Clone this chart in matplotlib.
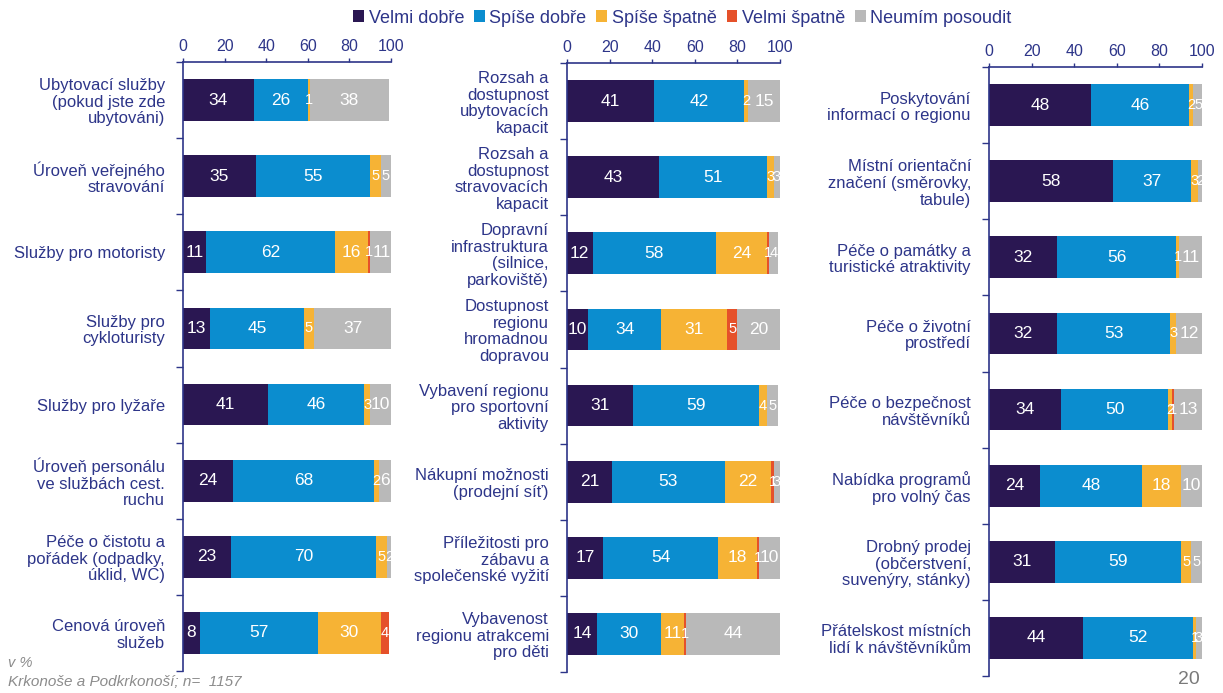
import numpy as np
import matplotlib
import matplotlib.pyplot as plt

matplotlib.use("Agg")
plt.rcParams["font.family"] = ["Liberation Sans", "DejaVu Sans"]

series = ["Velmi dobře", "Spíše dobře", "Spíše špatně", "Velmi špatně", "Neumím posoudit"]
colors = ["#2a1752", "#0b8dcf", "#f6b335", "#e5512a", "#b9b9b9"]

labels_left = [
    "Ubytovací služby\n(pokud jste zde\nubytováni)",
    "Úroveň veřejného\nstravování",
    "Služby pro motoristy",
    "Služby pro\ncykloturisty",
    "Služby pro lyžaře",
    "Úroveň personálu\nve službách cest.\nruchu",
    "Péče o čistotu a\npořádek (odpadky,\núklid, WC)",
    "Cenová úroveň\nslužeb",
]
values_left = [
    [34, 26, 1, 0, 38],
    [35, 55, 5, 0, 5],
    [11, 62, 16, 1, 11],
    [13, 45, 5, 0, 37],
    [41, 46, 3, 0, 10],
    [24, 68, 2, 0, 6],
    [23, 70, 5, 0, 2],
    [8, 57, 30, 4, 0],
]

labels_mid = [
    "Rozsah a\ndostupnost\nubytovacích\nkapacit",
    "Rozsah a\ndostupnost\nstravovacích\nkapacit",
    "Dopravní\ninfrastruktura\n(silnice,\nparkoviště)",
    "Dostupnost\nregionu\nhromadnou\ndopravou",
    "Vybavení regionu\npro sportovní\naktivity",
    "Nákupní možnosti\n(prodejní síť)",
    "Příležitosti pro\nzábavu a\nspolečenské vyžití",
    "Vybavenost\nregionu atrakcemi\npro děti",
]
values_mid = [
    [41, 42, 2, 0, 15],
    [43, 51, 3, 0, 3],
    [12, 58, 24, 1, 4],
    [10, 34, 31, 5, 20],
    [31, 59, 4, 0, 5],
    [21, 53, 22, 1, 3],
    [17, 54, 18, 1, 10],
    [14, 30, 11, 1, 44],
]

labels_right = [
    "Poskytování\ninformací o regionu",
    "Místní orientační\nznačení (směrovky,\ntabule)",
    "Péče o památky a\nturistické atraktivity",
    "Péče o životní\nprostředí",
    "Péče o bezpečnost\nnávštěvníků",
    "Nabídka programů\npro volný čas",
    "Drobný prodej\n(občerstvení,\nsuvenýry, stánky)",
    "Přátelskost místních\nlidí k návštěvníkům",
]
values_right = [
    [48, 46, 2, 0, 5],
    [58, 37, 3, 0, 2],
    [32, 56, 1, 0, 11],
    [32, 53, 3, 0, 12],
    [34, 50, 2, 1, 13],
    [24, 48, 18, 0, 10],
    [31, 59, 5, 0, 5],
    [44, 52, 1, 0, 3],
]

NAVY = "#2d3589"
W, H = 1223, 693


def px_axes(fig, x0, x1, y0, y1):
    return fig.add_axes([x0 / W, 1 - y1 / H, (x1 - x0) / W, (y1 - y0) / H])


def draw_panel(ax, labels, values):
    data = np.array(values, dtype=float)
    y = np.arange(len(labels))
    left = np.zeros(len(labels))
    for j, name in enumerate(series):
        ax.barh(y, data[:, j], left=left, height=0.55, color=colors[j],
                label=name, linewidth=0)
        for i in range(len(labels)):
            # empty segments get no label
            if data[i, j] > 0:
                size = 12.5 if data[i, j] >= 6 else 10.5
                ax.text(left[i] + data[i, j] / 2, y[i], f"{int(data[i, j])}",
                        ha="center", va="center", color="white", fontsize=size)
        left += data[:, j]

    ax.set_xlim(0, 100)
    ax.set_ylim(len(labels) - 0.5, -0.5)
    ax.set_xticks(np.arange(0, 101, 20))
    ax.xaxis.tick_top()
    ax.tick_params(axis="x", direction="out", length=3, width=1, color=NAVY,
                   labelcolor=NAVY, labelsize=11.5, pad=3)

    ax.set_yticks(y)
    ax.set_yticklabels(labels, fontsize=12, color=NAVY, linespacing=1.13)
    ax.set_yticks(np.arange(-0.5, len(labels), 1), minor=True)
    ax.tick_params(axis="y", which="major", length=0, pad=13)
    ax.tick_params(axis="y", which="minor", direction="out", length=5,
                   width=1, color=NAVY)

    for side in ("right", "bottom"):
        ax.spines[side].set_visible(False)
    for side in ("left", "top"):
        ax.spines[side].set_color(NAVY)
        ax.spines[side].set_linewidth(1.2)


fig = plt.figure(figsize=(W / 100, H / 100), dpi=100)

ax1 = px_axes(fig, 183, 391, 62, 671)
ax2 = px_axes(fig, 567, 780, 63, 672)
ax3 = px_axes(fig, 989, 1202, 67, 676)

draw_panel(ax1, labels_left, values_left)
draw_panel(ax2, labels_mid, values_mid)
draw_panel(ax3, labels_right, values_right)

handles, names = ax1.get_legend_handles_labels()
leg = fig.legend(handles, names, loc="center", bbox_to_anchor=(0.558, 0.974),
                 ncol=5, frameon=False, fontsize=13, handlelength=0.6,
                 handleheight=0.6, handletextpad=0.25, columnspacing=0.55)
for t in leg.get_texts():
    t.set_color(NAVY)

fig.text(8 / W, 1 - 663 / H, "v %", fontsize=10.5, style="italic",
         color="#8c8c8c", va="center")
fig.text(8 / W, 1 - 682 / H, "Krkonoše a Podkrkonoší; n=  1157", fontsize=11,
         style="italic", color="#8c8c8c", va="center")
fig.text(1189 / W, 1 - 679 / H, "20", fontsize=14, color="#7a7a7a",
         ha="center", va="center")

fig.savefig("out.png", dpi=100, facecolor="white")
